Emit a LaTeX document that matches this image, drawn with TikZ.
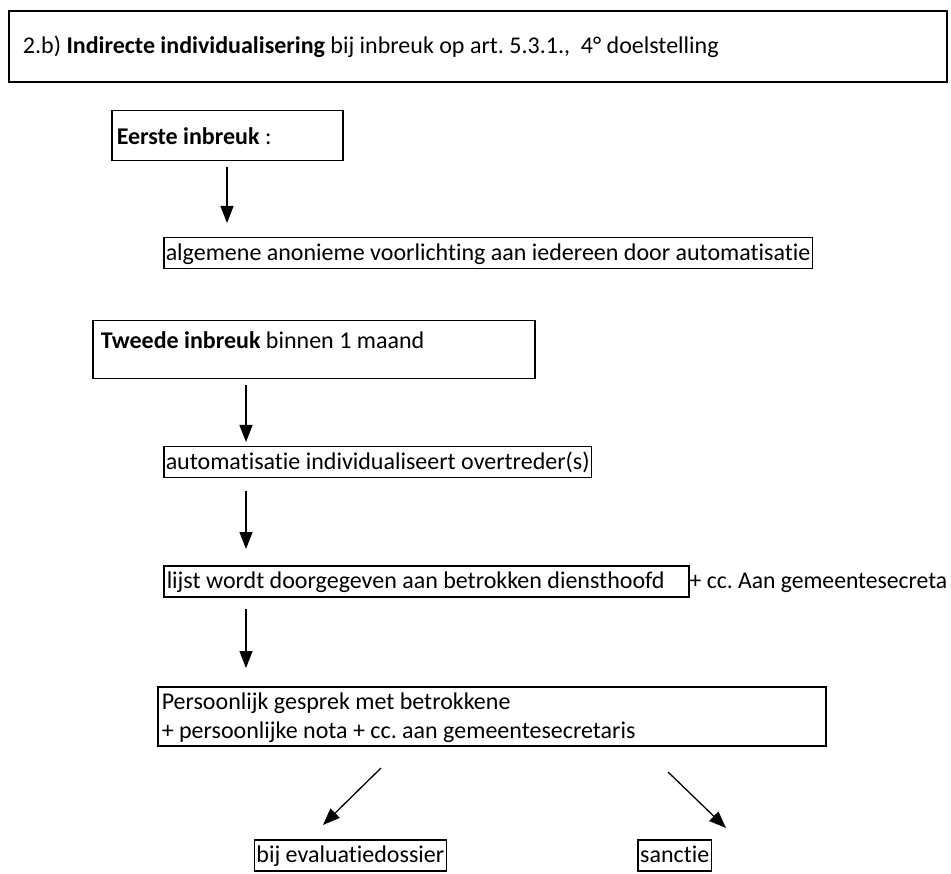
\documentclass[tikz,border=0pt]{standalone}
\usepackage{fontspec}
\setmainfont{Carlito}[Ligatures={NoCommon,NoRare}]
\usetikzlibrary{arrows.meta}
\newcommand\fsz{\fontsize{24}{29}\selectfont\frenchspacing}
\begin{document}
\begin{tikzpicture}[x=1pt,y=-1pt,
  every node/.style={font=\fsz},
  box/.style={draw=black,line width=1.5pt,anchor=north west,inner xsep=2pt,inner ysep=3pt,text height=20pt,text depth=5pt},
  bigbox/.style={draw=black,line width=1.5pt,anchor=north west},
  arr/.style={line width=1.3pt,-{Triangle[width=13pt,length=17pt]}}]
\useasboundingbox (0,0) rectangle (951,874);
% title
\node[bigbox,line width=2pt,inner xsep=14pt,minimum height=71pt] (title) at (8,10)
  {\makebox[910pt][l]{2.b) \textbf{Indirecte individualisering} bij inbreuk op art. 5.3.1.,\ \ 4° doelstelling}};
% first offence
\node[bigbox,inner xsep=5pt,minimum height=50pt] (eerste) at (111,110)
  {\makebox[221pt][l]{\textbf{Eerste inbreuk} :}};
\node[box] (alg) at (163,237) {algemene anonieme voorlichting aan iedereen door automatisatie};
% second offence
\node[bigbox,inner xsep=8pt,inner ysep=8pt,text height=20pt,text depth=22pt] (tweede) at (92,320)
  {\makebox[426pt][l]{\textbf{Tweede inbreuk} binnen 1 maand}};
\node[box] (auto) at (163,446) {automatisatie individualiseert overtreder(s)};
\node[box,inner xsep=3pt] (lijst) at (163,565) {\makebox[519pt][l]{lijst wordt doorgegeven aan betrokken diensthoofd}};
\node[anchor=west,inner xsep=0pt,inner ysep=3pt,text height=20pt,text depth=5pt] (cc) at (lijst.east) {\scalebox{0.985}[1]{+ cc. Aan gemeentesecreta}};
\node[bigbox,inner xsep=4pt,inner ysep=2.5pt,text height=20pt,text depth=34pt] (pers) at (157,686)
  {\vtop{\hbox to 660pt{Persoonlijk gesprek met betrokkene\hfil}\hbox to 660pt{+ persoonlijke nota + cc. aan gemeentesecretaris\hfil}}};
\node[box,anchor=north east] (bij) at (447,839) {bij evaluatiedossier};
\node[box,anchor=north east] (sanctie) at (712,839) {sanctie};
% connector end points
\coordinate (a1s) at (227,167); \coordinate (a1e) at (227,223);
\coordinate (a2s) at (246,385); \coordinate (a2e) at (246,442);
\coordinate (a3s) at (246,491); \coordinate (a3e) at (246,549);
\coordinate (a4s) at (246,609); \coordinate (a4e) at (246,668);
\coordinate (a5s) at (381,768); \coordinate (a5e) at (323,825);
\coordinate (a6s) at (668,772); \coordinate (a6e) at (726,828);
\draw[arr] (a1s) -- (a1e);
\draw[arr] (a2s) -- (a2e);
\draw[arr] (a3s) -- (a3e);
\draw[arr] (a4s) -- (a4e);
\draw[arr] (a5s) -- (a5e);
\draw[arr] (a6s) -- (a6e);
\end{tikzpicture}
\end{document}
